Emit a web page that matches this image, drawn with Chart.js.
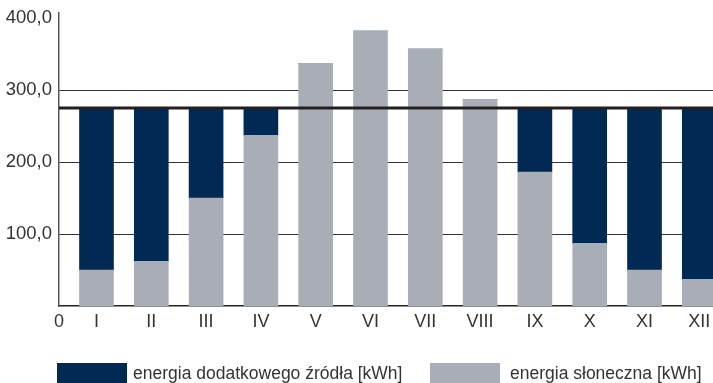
<!DOCTYPE html>
<html lang="pl">
<head>
<meta charset="utf-8">
<title>Bilans energii</title>
<script src="https://cdn.jsdelivr.net/npm/chart.js@4/dist/chart.umd.min.js"></script>
<style>
  html, body { margin: 0; padding: 0; background: #fff; }
  #wrap { position: relative; width: 713px; height: 383px; overflow: hidden; }
  #chart { position: absolute; left: 0; top: 0; }
  .key { position: absolute; top: 363px; height: 20px; display: flex; align-items: center;
         font: 17.5px "Liberation Sans", Arial, sans-serif; color: #333; white-space: nowrap; }
  .key i { display: inline-block; width: 70px; height: 20px; margin-right: 6px; }
</style>
</head>
<body>
<div id="wrap">
  <canvas id="chart" width="713" height="383"></canvas>
  <div class="key" style="left:57px"><i style="background:#002a54"></i><span>energia dodatkowego źródła [kWh]</span></div>
  <div class="key" style="left:430px"><i style="background:#a9adb5;margin-right:10px"></i><span>energia słoneczna [kWh]</span></div>
</div>
<script>
// Months (Roman numerals) and monthly energy values in kWh
const months = ['I', 'II', 'III', 'IV', 'V', 'VI', 'VII', 'VIII', 'IX', 'X', 'XI', 'XII'];
const solarEnergy = [50, 62, 150, 237, 337, 382, 357, 287, 186, 87, 50, 37];
const extraEnergy = [225, 213, 125, 38, 0, 0, 0, 0, 89, 188, 225, 238];
const demandLevel = 275;
const yTicks = [100, 200, 300, 400];

// Horizontal extent of the month axis
const xMin = -0.684;
const xMax = 11.25;

const NAVY = '#002a54';
const GREY = '#a9adb5';

Chart.defaults.font.family = '"Liberation Sans", Arial, sans-serif';
Chart.defaults.color = '#333';

const toPoints = arr => arr.map((v, i) => ({ x: i, y: v }));

new Chart(document.getElementById('chart'), {
  type: 'bar',
  data: {
    datasets: [
      {
        type: 'line',
        label: 'zapotrzebowanie',
        data: [{ x: xMin, y: demandLevel }, { x: xMax, y: demandLevel }],
        borderColor: '#231f20',
        borderWidth: 3,
        pointRadius: 0,
        stack: 'demand',
        order: 0
      },
      {
        label: 'energia słoneczna [kWh]',
        data: toPoints(solarEnergy),
        backgroundColor: GREY,
        barThickness: 34,
        stack: 'energy',
        order: 1
      },
      {
        label: 'energia dodatkowego źródła [kWh]',
        data: toPoints(extraEnergy),
        backgroundColor: NAVY,
        barThickness: 34,
        stack: 'energy',
        order: 1
      }
    ]
  },
  options: {
    responsive: false,
    animation: false,
    layout: { padding: { top: 13, bottom: 47, left: 0, right: 0 } },
    plugins: { legend: { display: false }, tooltip: { enabled: false } },
    scales: {
      x: {
        type: 'linear',
        min: xMin,
        max: xMax,
        offset: false,
        stacked: true,
        grid: { display: false, drawTicks: false },
        border: { color: '#222', width: 1.5 },
        afterBuildTicks: s => {
          s.ticks = [{ value: xMin }].concat(months.map((m, i) => ({ value: i })));
        },
        afterFit: s => { s.height = 30; s.paddingLeft = 0; s.paddingRight = 0; },
        ticks: {
          autoSkip: false,
          maxRotation: 0,
          padding: 5,
          font: { size: 18 },
          callback: v => (v === xMin ? '0' : months[v])
        }
      },
      y: {
        min: 0,
        max: 407,
        stacked: true,
        afterBuildTicks: s => { s.ticks = yTicks.map(v => ({ value: v })); },
        afterFit: s => { s.width = 59; s.paddingTop = 0; s.paddingBottom = 0; },
        grid: {
          drawTicks: false,
          lineWidth: 1,
          color: c => (c.tick && c.tick.value === 400 ? 'rgba(0,0,0,0)' : '#333')
        },
        border: { color: '#555', width: 1.5 },
        ticks: {
          padding: 7,
          font: { size: 18.5 },
          callback: v => v.toFixed(1).replace('.', ',')
        }
      }
    }
  }
});
</script>
</body>
</html>
